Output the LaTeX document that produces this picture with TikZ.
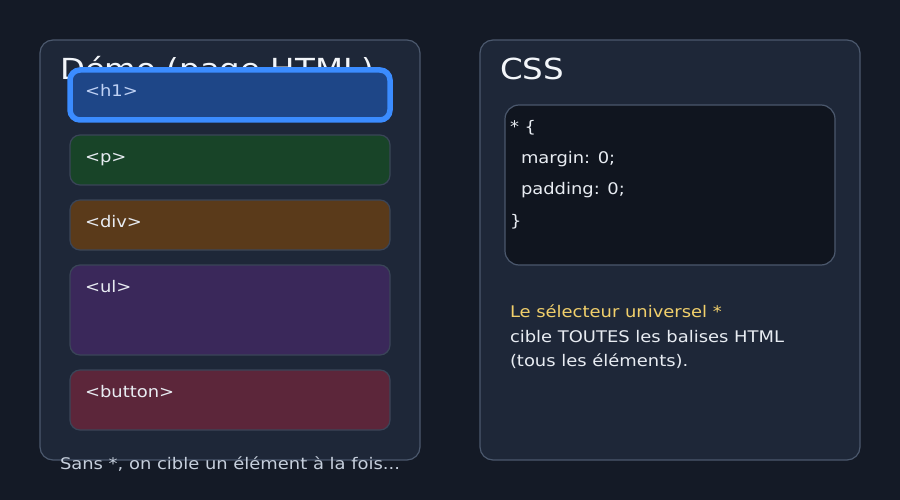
\documentclass[tikz,border=0pt]{standalone}
\usepackage{fontspec}
\setmainfont{DejaVu Sans}[FakeStretch=1.12]
\definecolor{bg}{HTML}{141A26}
\definecolor{panel}{HTML}{1E2738}
\definecolor{panelline}{HTML}{4B586D}
\definecolor{codebg}{HTML}{10151F}
\definecolor{elline}{HTML}{3A4558}
\definecolor{hfill}{HTML}{1E4687}
\definecolor{hline}{HTML}{3B8CFF}
\definecolor{htext}{HTML}{C0D2F5}
\definecolor{pfill}{HTML}{184428}
\definecolor{dfill}{HTML}{5A3A1A}
\definecolor{ufill}{HTML}{3A285A}
\definecolor{bfill}{HTML}{5C263A}
\definecolor{txt}{HTML}{E8ECF2}
\definecolor{title}{HTML}{F3F6FA}
\definecolor{note}{HTML}{C6CFDC}
\definecolor{yell}{HTML}{F2D06B}
\tikzset{
  panelbox/.style={fill=panel,draw=panelline,line width=1.2pt,rounded corners=13pt},
  elbox/.style={draw=elline,line width=1.2pt,rounded corners=10pt},
  body/.style={anchor=base west,inner sep=0pt,outer sep=0pt,font=\fontsize{16}{19}\selectfont,text=txt},
  ttl/.style={anchor=base west,inner sep=0pt,outer sep=0pt,font=\fontsize{29}{34}\selectfont,text=title},
}
\begin{document}
\begin{tikzpicture}[x=1pt,y=-1pt]
\fill[bg] (0,0) rectangle (900,500);
\useasboundingbox (0,0) rectangle (900,500);
% panels
\draw[panelbox] (40,40) rectangle (420,460);
\draw[panelbox] (480,40) rectangle (860,460);
% titles
\node[ttl] (t1) at (60,80) {Démo (page HTML)};
\node[ttl] (t2) at (500,80) {CSS};
% elements
\draw[elbox,fill=hfill,draw=hline,line width=5.5pt] (70,70) rectangle (390,120);
\node[body,text=htext] (h1) at (85,97) {<h1>};
\draw[elbox,fill=pfill] (70,135) rectangle (390,185);
\node[body] (p) at (85,162.5) {<p>};
\draw[elbox,fill=dfill] (70,200) rectangle (390,250);
\node[body] (div) at (85,227) {<div>};
\draw[elbox,fill=ufill] (70,265) rectangle (390,355);
\node[body] (ul) at (85,292) {<ul>};
\draw[elbox,fill=bfill] (70,370) rectangle (390,430);
\node[body] (btn) at (85,397) {<button>};
% code
\draw[fill=codebg,draw=panelline,line width=1.2pt,rounded corners=14pt] (505,105) rectangle (835,265);
\node[body] (c1) at (510,133) {* \{};
\node[body] (c2) at (521,164) {margin: 0;};
\node[body] (c3) at (521,195) {padding: 0;};
\node[body] (c4) at (510,226) {\}};
% explanation
\node[body,text=yell] (e1) at (510,317) {Le sélecteur universel *};
\node[body] (e2) at (510,342) {cible TOUTES les balises HTML};
\node[body] (e3) at (510,366) {(tous les éléments).};
% footer
\node[body,text=note] (f) at (60,469) {Sans *, on cible un élément à la fois...};
\end{tikzpicture}
\end{document}
